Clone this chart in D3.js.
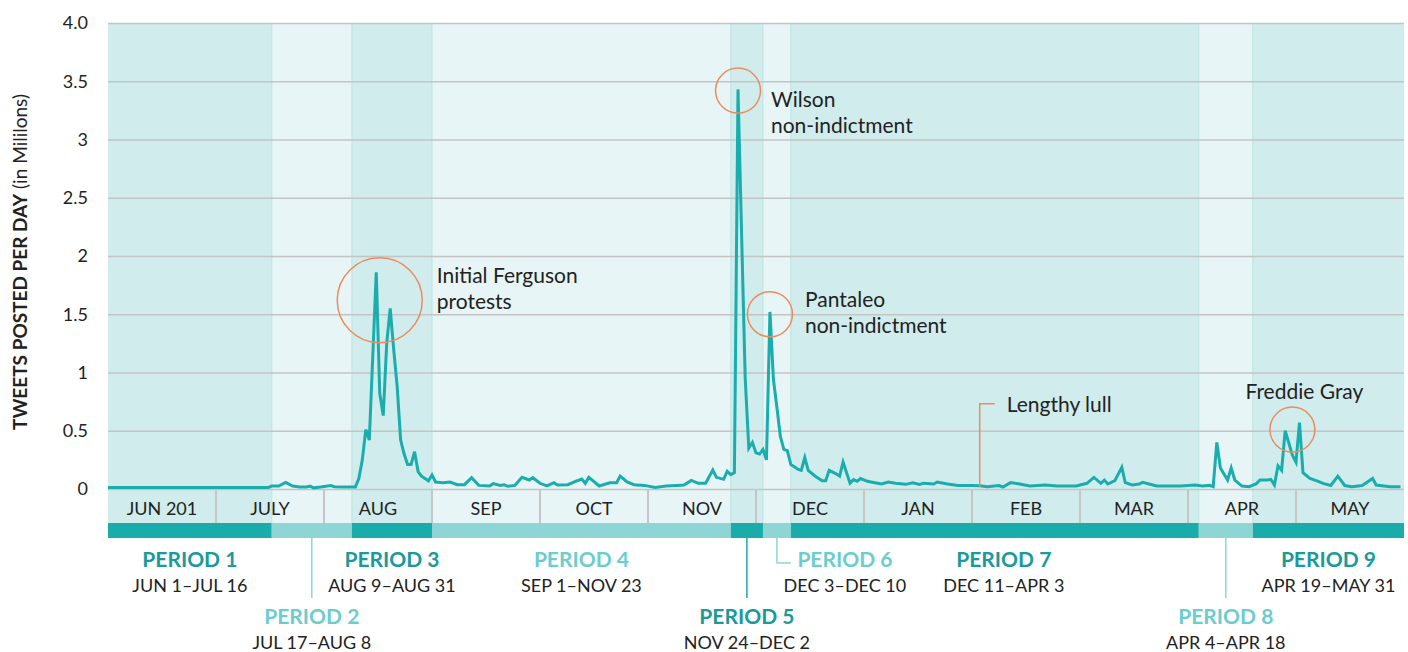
<!DOCTYPE html>
<html>
<head>
<meta charset="utf-8">
<script src="https://cdn.jsdelivr.net/npm/d3@7"></script>
<style>
  body { margin: 0; background: #fff; }
  text { font-family: Lato, "Noto Sans", sans-serif; fill: #222; }
</style>
</head>
<body>
<div id="chart"></div>
<script>
// tweets per day (millions)
var dates = [
  "2014-06-01","2014-06-15","2014-07-01","2014-07-16","2014-07-17","2014-07-19","2014-07-21","2014-07-23","2014-07-25","2014-07-27","2014-07-28","2014-07-29","2014-07-31",
  "2014-08-03","2014-08-04","2014-08-06","2014-08-10","2014-08-11","2014-08-12","2014-08-13","2014-08-14","2014-08-15","2014-08-16","2014-08-17","2014-08-18","2014-08-19","2014-08-20","2014-08-21","2014-08-22","2014-08-23","2014-08-24","2014-08-25","2014-08-26","2014-08-27","2014-08-28","2014-08-29","2014-08-30","2014-08-31",
  "2014-09-01","2014-09-02","2014-09-04","2014-09-06","2014-09-08","2014-09-10","2014-09-12","2014-09-14","2014-09-17","2014-09-18","2014-09-20","2014-09-21","2014-09-22","2014-09-24","2014-09-26","2014-09-28","2014-09-29",
  "2014-10-01","2014-10-03","2014-10-05","2014-10-06","2014-10-09","2014-10-11","2014-10-13","2014-10-14","2014-10-15","2014-10-18","2014-10-21","2014-10-23","2014-10-24","2014-10-26","2014-10-28","2014-10-31",
  "2014-11-03","2014-11-06","2014-11-09","2014-11-11","2014-11-13","2014-11-15","2014-11-17","2014-11-19","2014-11-20","2014-11-22","2014-11-23","2014-11-24","2014-11-25","2014-11-26","2014-11-28","2014-11-29","2014-11-30",
  "2014-12-01","2014-12-02","2014-12-03","2014-12-04","2014-12-05","2014-12-06","2014-12-07","2014-12-08","2014-12-09","2014-12-10","2014-12-11","2014-12-12","2014-12-13","2014-12-14","2014-12-15","2014-12-16","2014-12-18","2014-12-20","2014-12-21","2014-12-22","2014-12-24","2014-12-25","2014-12-26","2014-12-27","2014-12-28","2014-12-29","2014-12-30","2014-12-31",
  "2015-01-02","2015-01-03","2015-01-06","2015-01-08","2015-01-10","2015-01-13","2015-01-15","2015-01-17","2015-01-18","2015-01-21","2015-01-22","2015-01-25","2015-01-28",
  "2015-02-01","2015-02-03","2015-02-05","2015-02-08","2015-02-09","2015-02-11","2015-02-13","2015-02-16","2015-02-20","2015-02-23","2015-02-28",
  "2015-03-03","2015-03-05","2015-03-07","2015-03-08","2015-03-09","2015-03-11","2015-03-13","2015-03-14","2015-03-16","2015-03-18","2015-03-19","2015-03-23","2015-03-26","2015-03-30",
  "2015-04-03","2015-04-05","2015-04-07","2015-04-08","2015-04-09","2015-04-10","2015-04-12","2015-04-13","2015-04-14","2015-04-16","2015-04-18","2015-04-20","2015-04-21","2015-04-23","2015-04-24","2015-04-25","2015-04-26","2015-04-27","2015-04-28","2015-04-30",
  "2015-05-01","2015-05-02","2015-05-03","2015-05-05","2015-05-07","2015-05-09","2015-05-11","2015-05-13","2015-05-15","2015-05-17","2015-05-20","2015-05-23","2015-05-24","2015-05-28","2015-05-31"
];
var tweets = [
  0.012,0.012,0.012,0.013,0.025,0.025,0.057,0.025,0.017,0.017,0.025,0.010,0.017,
  0.030,0.020,0.017,0.017,0.09,0.25,0.51,0.42,1.14,1.86,0.82,0.63,1.25,1.55,1.20,0.88,0.42,0.30,0.21,0.21,0.32,0.15,0.11,0.09,0.07,
  0.12,0.06,0.054,0.06,0.037,0.037,0.097,0.031,0.026,0.046,0.031,0.037,0.023,0.031,0.10,0.077,0.097,
  0.049,0.026,0.054,0.034,0.037,0.063,0.086,0.049,0.10,0.026,0.054,0.054,0.11,0.06,0.037,0.031,
  0.014,0.026,0.031,0.034,0.074,0.049,0.049,0.163,0.10,0.083,0.152,0.123,0.14,3.43,0.95,0.35,0.40,
  0.31,0.30,0.34,0.25,1.52,0.94,0.70,0.45,0.34,0.33,0.21,0.19,0.17,0.16,0.27,0.16,0.11,0.07,0.07,0.16,0.13,0.11,0.23,0.14,0.05,0.08,0.066,0.09,
  0.066,0.06,0.043,0.06,0.05,0.04,0.054,0.04,0.05,0.043,0.06,0.043,0.03,
  0.03,0.027,0.02,0.03,0.017,0.055,0.045,0.026,0.034,0.026,0.026,
  0.049,0.10,0.049,0.077,0.043,0.071,0.186,0.054,0.034,0.043,0.057,0.026,0.026,0.026,
  0.034,0.026,0.031,0.02,0.40,0.18,0.077,0.18,0.077,0.025,0.02,0.046,0.077,0.077,0.083,0.034,0.20,0.16,0.50,0.29,
  0.23,0.57,0.14,0.09,0.07,0.046,0.03,0.11,0.03,0.02,0.03,0.09,0.034,0.02,0.02
];

var monthStarts = ["2014-06-01","2014-07-01","2014-08-01","2014-09-01","2014-10-01","2014-11-01","2014-12-01",
                   "2015-01-01","2015-02-01","2015-03-01","2015-04-01","2015-05-01","2015-06-01"];
var monthLabels = ["JUN 201","JULY","AUG","SEP","OCT","NOV","DEC","JAN","FEB","MAR","APR","MAY"];

var yTicks = [0,0.5,1,1.5,2,2.5,3,3.5,4];
var yTickLabels = ["0","0.5","1","1.5","2","2.5","3","3.5","4.0"];

var periodNames = ["PERIOD 1","PERIOD 2","PERIOD 3","PERIOD 4","PERIOD 5","PERIOD 6","PERIOD 7","PERIOD 8","PERIOD 9"];
var periodStarts = ["2014-06-01","2014-07-17","2014-08-09","2014-09-01","2014-11-24","2014-12-03","2014-12-11","2015-04-04","2015-04-19"];
var periodEnds   = ["2014-07-16","2014-08-08","2014-08-31","2014-11-23","2014-12-02","2014-12-10","2015-04-03","2015-04-18","2015-05-31"];
var periodRanges = ["JUN 1–JUL 16","JUL 17–AUG 8","AUG 9–AUG 31","SEP 1–NOV 23","NOV 24–DEC 2",
                    "DEC 3–DEC 10","DEC 11–APR 3","APR 4–APR 18","APR 19–MAY 31"];

var eventLabels = [["Initial Ferguson","protests"],["Wilson","non-indictment"],["Pantaleo","non-indictment"],["Freddie Gray"]];
var eventDates  = ["2014-08-17","2014-11-26","2014-12-05","2015-04-30"];
var eventValues = [1.62,3.42,1.50,0.51];
var lullDate = "2015-02-03", lullValue = 0.02, lullLabel = "Lengthy lull";

var parse = d3.timeParse("%Y-%m-%d");

var width = 1408, height = 652;
var mLeft = 108, mRight = 1404, mTop = 23, mBottom = 489;
var stripH = 34, barH = 15;

var svg = d3.select("#chart").append("svg")
    .attr("width", width)
    .attr("height", height);

// months are drawn as equal cells
var x = d3.scaleTime()
    .domain(monthStarts.map(parse))
    .range(monthStarts.map(function(d, i){ return mLeft + i * (mRight - mLeft) / 12; }));
var y = d3.scaleLinear().domain([0, 4]).range([mBottom, mTop]);

var series = dates.map(function(d, i){ return {date: parse(d), value: tweets[i]}; });

var periods = periodNames.map(function(n, i){
  return {name: n, start: parse(periodStarts[i]), end: d3.timeDay.offset(parse(periodEnds[i]), 1),
          range: periodRanges[i], light: i % 2 == 1, i: i};
});

var bandDark = "#d0ecec", bandLight = "#e7f5f6";
var barDark = "#1aabab", barLight = "#8ed5d6";
var titleDark = "#1a9a9a", titleLight = "#6dcdcd";
var orange = "#ec8c5e";

// period bands behind everything (plot + month strip)
svg.append("g").selectAll("rect")
  .data(periods).enter().append("rect")
    .attr("x", function(d){ return x(d.start); })
    .attr("y", mTop)
    .attr("width", function(d){ return x(d.end) - x(d.start); })
    .attr("height", mBottom - mTop + stripH)
    .attr("fill", function(d){ return d.light ? bandLight : bandDark; });

svg.append("g").selectAll("line")
  .data(periods.slice(1)).enter().append("line")
    .attr("x1", function(d){ return x(d.start); })
    .attr("x2", function(d){ return x(d.start); })
    .attr("y1", mTop).attr("y2", mBottom + stripH)
    .style("stroke", "#bde4e4").style("stroke-width", 1);

// grid + y labels
var yAxis = d3.axisLeft(y)
    .tickValues(yTicks)
    .tickSize(-(mRight - mLeft))
    .tickPadding(20)
    .tickFormat(function(d, i){ return yTickLabels[i]; });
var gy = svg.append("g")
    .attr("transform", "translate(" + mLeft + ",0)")
    .call(yAxis);
gy.select(".domain").remove();
gy.selectAll(".tick line").style("stroke", "#c4c4c4").style("stroke-width", 1.6);
gy.selectAll(".tick text")
    .style("font-size", "18px")
    .style("font-family", "Lato, sans-serif")
    .attr("fill", "#222");

// month strip dividers + labels
var mStarts = monthStarts.map(parse);
svg.append("g").selectAll("line")
  .data(mStarts.slice(1, 12)).enter().append("line")
    .attr("x1", function(d){ return x(d); })
    .attr("x2", function(d){ return x(d); })
    .attr("y1", mBottom).attr("y2", mBottom + stripH)
    .style("stroke", "#c6c6c6").style("stroke-width", 2);

svg.append("g").selectAll("text")
  .data(monthLabels).enter().append("text")
    .attr("x", function(d, i){ return (x(mStarts[i]) + x(mStarts[i + 1])) / 2; })
    .attr("y", mBottom + 26)
    .attr("text-anchor", "middle")
    .style("font-size", "18px")
    .text(function(d){ return d; });

// period bar
svg.append("g").selectAll("rect")
  .data(periods).enter().append("rect")
    .attr("x", function(d){ return x(d.start); })
    .attr("y", mBottom + stripH)
    .attr("width", function(d){ return x(d.end) - x(d.start); })
    .attr("height", barH)
    .attr("fill", function(d){ return d.light ? barLight : barDark; });

// the line
var line = d3.line()
    .x(function(d){ return x(d.date); })
    .y(function(d){ return y(d.value); });
svg.append("path")
    .datum(series)
    .attr("d", line)
    .attr("fill", "none")
    .style("stroke", "#1aadad")
    .style("stroke-width", 3);

// period labels
var barBottom = mBottom + stripH + barH;
var lowRow = [1, 4, 7];
var g = svg.append("g");
periods.forEach(function(p){
  var mid = (x(p.start) + x(p.end)) / 2;
  var low = lowRow.indexOf(p.i) >= 0;
  var cx = mid, ty = barBottom + 29;
  if (low) {
    ty = barBottom + 86;
    g.append("line")
      .attr("x1", mid).attr("x2", mid)
      .attr("y1", barBottom).attr("y2", barBottom + 60)
      .style("stroke", p.light ? barLight : barDark).style("stroke-width", 1.5);
  }
  if (p.i == 5) {
    // elbow leader for period 6
    cx = mid + 68;
    g.append("path")
      .attr("d", "M" + mid + "," + barBottom + "V" + (barBottom + 25) + "H" + (mid + 14))
      .attr("fill", "none")
      .style("stroke", barLight).style("stroke-width", 1.5);
  }
  if (p.i == 6) cx = mid + 9;
  g.append("text")
    .attr("x", cx).attr("y", ty)
    .attr("text-anchor", "middle")
    .style("font-size", "21px").style("font-weight", "bold")
    .style("fill", p.light ? titleLight : titleDark)
    .text(p.name);
  g.append("text")
    .attr("x", cx).attr("y", ty + 25)
    .attr("text-anchor", "middle")
    .style("font-size", "18px")
    .text(p.range);
});

// event annotations
var evLayout = [
  {r: 42.5, dx: 57, dy: -17},
  {r: 22.5, dx: 33, dy: 16},
  {r: 22.5, dx: 35, dy: -7},
  {r: 22.5, dx: 12, dy: -31, anchor: "middle"}
];
eventLabels.forEach(function(lbl, i){
  var cx = x(parse(eventDates[i])), cy = y(eventValues[i]), L = evLayout[i];
  svg.append("circle")
    .attr("cx", cx).attr("cy", cy).attr("r", L.r)
    .attr("fill", "none")
    .style("stroke", orange).style("stroke-width", 1.5);
  var t = svg.append("text")
    .attr("x", cx + L.dx).attr("y", cy + L.dy)
    .attr("text-anchor", L.anchor || "start")
    .style("font-size", "21px");
  lbl.forEach(function(s, j){
    t.append("tspan").attr("x", cx + L.dx).attr("dy", j ? 26 : 0).text(s);
  });
});

// lengthy lull leader
var lx = x(parse(lullDate)), ly = y(lullValue);
svg.append("path")
  .attr("d", "M" + lx + "," + ly + "V" + (ly - 83) + "H" + (lx + 15))
  .attr("fill", "none")
  .style("stroke", orange).style("stroke-width", 1.5);
svg.append("text")
  .attr("x", lx + 27).attr("y", ly - 75)
  .style("font-size", "21px")
  .text(lullLabel);

// y title
var yt = svg.append("text")
  .attr("transform", "translate(27," + ((mTop + mBottom) / 2 + 6) + ") rotate(-90)")
  .attr("text-anchor", "middle")
  .style("font-size", "19px");
yt.append("tspan").style("font-weight", "bold").text("TWEETS POSTED PER DAY");
yt.append("tspan").text(" (in Mililons)");
</script>
</body>
</html>
